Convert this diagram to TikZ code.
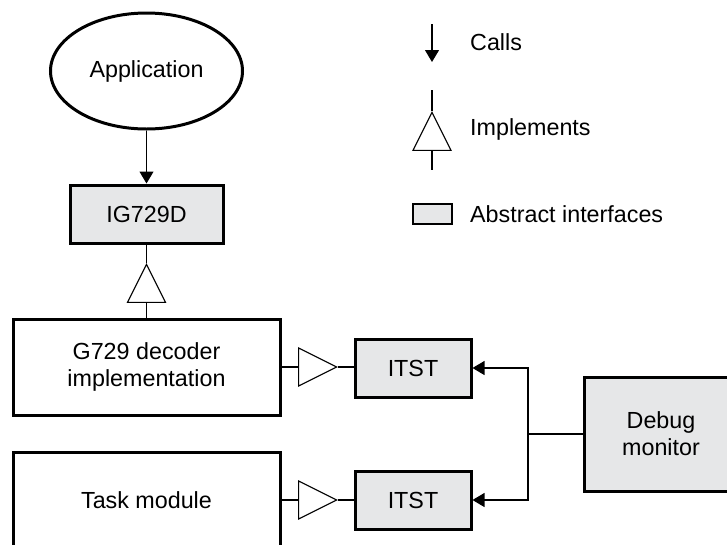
\documentclass[tikz,border=0pt]{standalone}
\usepackage{fontspec}
\setmainfont{Liberation Sans}
\usetikzlibrary{arrows.meta,shapes.geometric}
\definecolor{ifgray}{HTML}{E6E7E8}
\begin{document}
\begin{tikzpicture}[x=1pt, y=-1pt, >={Triangle[length=12pt,width=14pt]},
  every node/.style={font=\fontsize{23.3}{27}\selectfont, inner sep=0pt},
  box/.style={draw, line width=3pt, rectangle, align=center},
  iface/.style={box, fill=ifgray},
  impl/.style={draw, line width=1.1pt, isosceles triangle, isosceles triangle stretches,
    minimum width=38pt, minimum height=38pt, shape border rotate=#1, anchor=apex},
  thin/.style={line width=1.1pt}]
\useasboundingbox (0,0) rectangle (727,544);
% main blocks
\node [draw, line width=3pt, ellipse, minimum width=192pt, minimum height=116pt] (app) at (146.5,71) {Application};
\node [iface, minimum width=153pt, minimum height=58pt] (ig) at (146.5,214) {IG729D};
\node [box, minimum width=267pt, minimum height=96pt] (g729) at (146.5,367) {G729 decoder\\implementation};
\node [box, minimum width=267pt, minimum height=96pt] (task) at (146.5,500) {Task module};
\node [iface, minimum width=116pt, minimum height=58pt] (itst1) at (413,368) {ITST};
\node [iface, minimum width=116pt, minimum height=58pt] (itst2) at (413,500) {ITST};
\node [iface, minimum width=154pt, minimum height=114pt] (dbg) at (661,434) {Debug\\monitor};
\coordinate (j) at (528,434);
% implements
\node [impl=90] (t1) at (146.5,263) {};
\node [impl=0] (t2) at (338,367) {};
\node [impl=0] (t3) at (338,500) {};
% connectors
\draw [->, thin] (app) -- (ig);
\draw [thin] (ig.south) -- (t1.apex);
\draw [thin] (t1.south) -- (g729.north);
\draw [thin] (g729.east |- t2.west) -- (t2.west);
\draw [thin] (t2.apex) -- (itst1.west |- t2.apex);
\draw [thin] (task.east |- t3.west) -- (t3.west);
\draw [thin] (t3.apex) -- (itst2.west |- t3.apex);
\draw [thin] (dbg.west) -- (j);
\draw [->, thin] (j) |- (itst1.east);
\draw [->, thin] (j) |- (itst2.east);
% legend
\coordinate (lc1) at (432,24);
\coordinate (lc2) at (432,62);
\draw [->, thin] (lc1) -- (lc2);
\node [impl=90] (lt) at (432,111) {};
\draw [thin] (lt.apex) -- ++(0,-21);
\draw [thin] (lt.south) -- ++(0,19);
\node [draw, line width=1.5pt, fill=ifgray, minimum width=39pt, minimum height=20pt] (lr) at (432.5,214) {};
\node [anchor=west] (lcalls) at (470,42) {Calls};
\node [anchor=west] (limpl) at (470,129.5) {Implements};
\node [anchor=west] (labs) at (470,214) {Abstract interfaces};
\end{tikzpicture}
\end{document}
